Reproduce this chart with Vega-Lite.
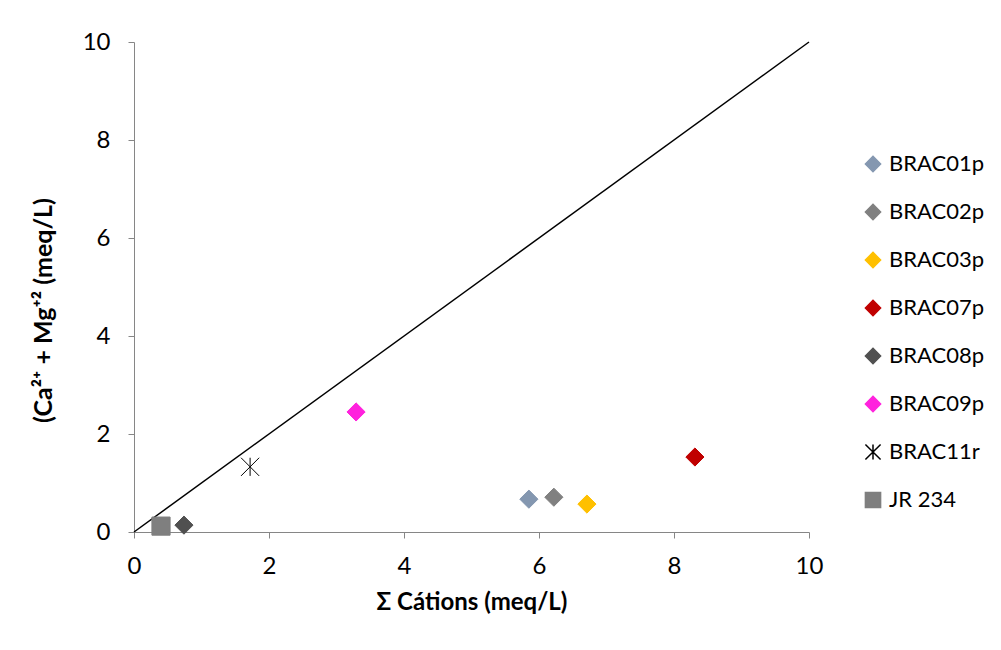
{
  "$schema": "https://vega.github.io/schema/vega-lite/v6.json",
  "width": 675,
  "height": 490,
  "autosize": {"type": "none"},
  "padding": {"left": 134, "top": 42, "right": 192, "bottom": 118},
  "background": "white",
  "config": {
    "font": "Lato",
    "view": {"stroke": null},
    "axis": {
      "grid": false,
      "domainColor": "#868686",
      "tickColor": "#868686",
      "tickSize": 6,
      "labelFlush": false,
      "labelFont": "Lato",
      "labelFontSize": 24,
      "labelColor": "#000000",
      "titleFont": "Lato",
      "titleFontSize": 24,
      "titleFontWeight": "bold",
      "titleColor": "#000000"
    },
    "legend": {
      "title": null,
      "orient": "none",
      "legendX": 728,
      "legendY": 111,
      "labelFont": "Lato",
      "labelFontSize": 22,
      "labelColor": "#000000",
      "symbolSize": 230,
      "rowPadding": 26,
      "labelOffset": 5,
      "symbolStrokeWidth": 1.5
    }
  },
  "layer": [
    {
      "data": {"values": [{"x": 0, "y": 0}, {"x": 10, "y": 10}]},
      "mark": {"type": "line", "color": "#000000", "strokeWidth": 1.5},
      "encoding": {
        "x": {"field": "x", "type": "quantitative", "scale": {"domain": [0, 10]}},
        "y": {"field": "y", "type": "quantitative", "scale": {"domain": [0, 10]}}
      }
    },
    {
      "data": {"values": [
        {"sample": "BRAC01p", "cations": 5.85, "camg": 0.67},
        {"sample": "BRAC02p", "cations": 6.22, "camg": 0.71},
        {"sample": "BRAC03p", "cations": 6.71, "camg": 0.57},
        {"sample": "BRAC07p", "cations": 8.31, "camg": 1.53},
        {"sample": "BRAC08p", "cations": 0.74, "camg": 0.14},
        {"sample": "BRAC09p", "cations": 3.29, "camg": 2.45},
        {"sample": "BRAC11r", "cations": 1.72, "camg": 1.33},
        {"sample": "JR 234", "cations": 0.40, "camg": 0.12}
      ]},
      "mark": {"type": "point", "filled": true, "opacity": 1, "size": 330, "strokeWidth": 1},
      "encoding": {
        "x": {
          "field": "cations", "type": "quantitative",
          "scale": {"domain": [0, 10], "nice": false},
          "axis": {"values": [0, 2, 4, 6, 8, 10], "format": "d", "title": "Σ Cátions (meq/L)", "labelPadding": 16, "titlePadding": 12}
        },
        "y": {
          "field": "camg", "type": "quantitative",
          "scale": {"domain": [0, 10], "nice": false},
          "axis": {"values": [0, 2, 4, 6, 8, 10], "format": "d", "title": "(Ca²⁺ + Mg⁺²   (meq/L)", "titleFontSize": 25, "titleY": 268, "labelPadding": 18, "titlePadding": 26}
        },
        "fill": {
          "field": "sample", "type": "nominal",
          "scale": {
            "domain": ["BRAC01p", "BRAC02p", "BRAC03p", "BRAC07p", "BRAC08p", "BRAC09p", "BRAC11r", "JR 234"],
            "range": ["#8497B0", "#808080", "#FFC000", "#C00000", "#505050", "#FF22DD", "#000000", "#7F7F7F"]
          }
        },
        "stroke": {
          "field": "sample", "type": "nominal",
          "scale": {
            "domain": ["BRAC01p", "BRAC02p", "BRAC03p", "BRAC07p", "BRAC08p", "BRAC09p", "BRAC11r", "JR 234"],
            "range": ["#8497B0", "#808080", "#FFC000", "#C00000", "#505050", "#FF22DD", "#000000", "#7F7F7F"]
          }
        },
        "shape": {
          "field": "sample", "type": "nominal",
          "scale": {
            "domain": ["BRAC01p", "BRAC02p", "BRAC03p", "BRAC07p", "BRAC08p", "BRAC09p", "BRAC11r", "JR 234"],
            "range": ["diamond", "diamond", "diamond", "diamond", "diamond", "diamond", "M-1,-1L1,1M-1,1L1,-1M0,-1L0,1", "square"]
          }
        }
      }
    }
  ]
}
